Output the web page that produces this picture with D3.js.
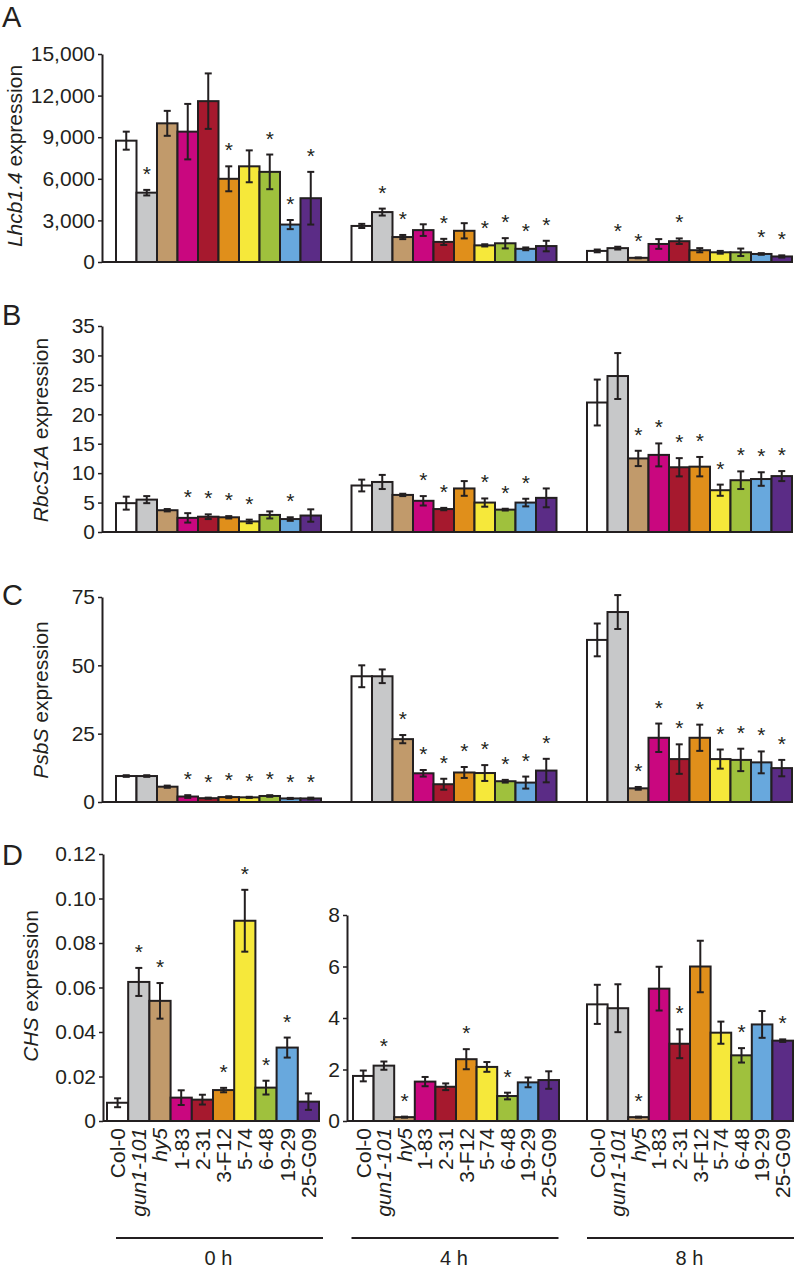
<!DOCTYPE html>
<html>
<head>
<meta charset="utf-8">
<script src="https://cdn.jsdelivr.net/npm/d3@7"></script>
<style>
body { margin: 0; background: #fff; }
svg { display: block; font-family: "Liberation Sans", Arial, sans-serif; }
</style>
</head>
<body>
<svg width="797" height="1272"></svg>
<script>
// lines and time points
var lines = ["Col-0", "gun1-101", "hy5", "1-83", "2-31", "3-F12", "5-74", "6-48", "19-29", "25-G09"];
var italicLines = ["gun1-101", "hy5"];
var times = ["0 h", "4 h", "8 h"];
var barColors = ["#ffffff", "#c7c8c9", "#c19a6b", "#c9077f", "#a6192e", "#e08f1b", "#f6e83a", "#9fc13d", "#68a8dd", "#5b2c86"];

// A - Lhcb1.4 (rows: 0 h, 4 h, 8 h)
var lhcbMean = [
  [8750, 5000, 10000, 9400, 11600, 6000, 6900, 6500, 2700, 4600],
  [2600, 3600, 1800, 2300, 1450, 2250, 1200, 1350, 950, 1150],
  [800, 1000, 300, 1300, 1500, 850, 700, 700, 580, 400]
];
var lhcbErr = [
  [650, 200, 900, 2000, 2000, 900, 1150, 1250, 330, 1900],
  [150, 250, 150, 420, 220, 550, 80, 370, 100, 380],
  [100, 100, 30, 350, 200, 150, 100, 270, 60, 80]
];
var lhcbStar = [
  [0, 1, 0, 0, 0, 1, 0, 1, 1, 1],
  [0, 1, 1, 0, 1, 0, 1, 1, 1, 1],
  [0, 1, 1, 0, 1, 0, 0, 0, 1, 1]
];

// B - RbcS1A
var rbcsMean = [
  [4.9, 5.5, 3.7, 2.4, 2.6, 2.5, 1.8, 2.9, 2.2, 2.8],
  [7.9, 8.5, 6.3, 5.3, 3.9, 7.4, 5.0, 3.8, 5.0, 5.8],
  [22, 26.5, 12.5, 13.1, 11.0, 11.1, 7.1, 8.8, 9.0, 9.5]
];
var rbcsErr = [
  [1.1, 0.6, 0.2, 0.8, 0.4, 0.2, 0.3, 0.6, 0.3, 1.05],
  [1.0, 1.2, 0.2, 0.8, 0.2, 1.25, 0.7, 0.15, 0.65, 1.6],
  [3.9, 3.9, 1.3, 1.95, 1.55, 1.65, 0.95, 1.5, 1.15, 0.85]
];
var rbcsStar = [
  [0, 0, 0, 1, 1, 1, 1, 0, 1, 0],
  [0, 0, 0, 1, 1, 0, 1, 1, 1, 0],
  [0, 0, 1, 1, 1, 1, 1, 1, 1, 1]
];

// C - PsbS
var psbsMean = [
  [9.5, 9.5, 5.6, 2.0, 1.4, 1.8, 1.7, 2.2, 1.3, 1.3],
  [46, 46, 23, 10.5, 6.5, 10.8, 10.6, 7.6, 7.1, 11.5],
  [59.3, 69.5, 5.0, 23.5, 15.7, 23.5, 15.7, 15.4, 14.5, 12.4]
];
var psbsErr = [
  [0.3, 0.3, 0.4, 0.5, 0.2, 0.3, 0.2, 0.3, 0.2, 0.3],
  [4, 2.5, 1.5, 1.2, 2.0, 2.0, 2.9, 0.5, 2.2, 4.3],
  [6, 6.2, 0.5, 5.2, 5.4, 4.8, 3.5, 4.1, 4.0, 3.0]
];
var psbsStar = [
  [0, 0, 0, 1, 1, 1, 1, 1, 1, 1],
  [0, 0, 1, 1, 1, 1, 1, 1, 1, 1],
  [0, 0, 1, 1, 1, 1, 1, 1, 1, 1]
];

// D - CHS (0 h on its own scale)
var chsMean = [
  [0.0082, 0.0625, 0.054, 0.0105, 0.0096, 0.0139, 0.090, 0.015, 0.033, 0.0087],
  [1.75, 2.15, 0.15, 1.53, 1.33, 2.4, 2.1, 0.97, 1.5, 1.59],
  [4.53, 4.38, 0.15, 5.14, 3.0, 6.0, 3.43, 2.55, 3.75, 3.12]
];
var chsErr = [
  [0.002, 0.0063, 0.008, 0.0033, 0.0022, 0.001, 0.0139, 0.0031, 0.0045, 0.0037],
  [0.21, 0.16, 0.02, 0.18, 0.13, 0.39, 0.19, 0.13, 0.19, 0.34],
  [0.76, 0.93, 0.02, 0.85, 0.56, 1.0, 0.43, 0.28, 0.52, 0.05]
];
var chsStar = [
  [0, 1, 1, 0, 0, 1, 1, 1, 1, 0],
  [0, 1, 1, 0, 0, 1, 0, 1, 0, 0],
  [0, 0, 1, 0, 1, 0, 0, 1, 0, 1]
];

var ink = "#231f20";
var svg = d3.select("svg");

// group positions for panels A-C
var groupX = d3.scaleBand().domain(times).range([116, 792]).paddingInner(0.1295);
// panel D: 0 h stands alone, 4 h and 8 h share an axis
var groupXd = d3.scaleBand().domain(times.slice(1)).range([353, 793]).paddingInner(0.1197);

function drawGroup(g, x0, x1, mean, err, star, y) {
  var x = d3.scaleBand().domain(lines).range([x0, x1]);
  var rows = lines.map(function(l, i) {
    return {line: l, i: i, v: mean[i], e: err[i], s: star[i]};
  });

  g.append("g").selectAll("rect").data(rows).enter().append("rect")
    .attr("x", function(d) { return x(d.line); })
    .attr("y", function(d) { return y(d.v); })
    .attr("width", x.bandwidth())
    .attr("height", function(d) { return y(0) - y(d.v); })
    .attr("fill", function(d) { return barColors[d.i]; })
    .attr("stroke", ink)
    .attr("stroke-width", 2);

  var eb = g.append("g").attr("stroke", ink).attr("stroke-width", 2)
    .selectAll("g").data(rows).enter().append("g");
  eb.append("line")
    .attr("x1", function(d) { return x(d.line) + x.bandwidth() / 2; })
    .attr("x2", function(d) { return x(d.line) + x.bandwidth() / 2; })
    .attr("y1", function(d) { return y(d.v + d.e); })
    .attr("y2", function(d) { return y(Math.max(0, d.v - d.e)); });
  eb.append("line")
    .attr("x1", function(d) { return x(d.line) + x.bandwidth() / 2 - 3.5; })
    .attr("x2", function(d) { return x(d.line) + x.bandwidth() / 2 + 3.5; })
    .attr("y1", function(d) { return y(d.v + d.e); })
    .attr("y2", function(d) { return y(d.v + d.e); });
  eb.append("line")
    .attr("x1", function(d) { return x(d.line) + x.bandwidth() / 2 - 3.5; })
    .attr("x2", function(d) { return x(d.line) + x.bandwidth() / 2 + 3.5; })
    .attr("y1", function(d) { return y(Math.max(0, d.v - d.e)); })
    .attr("y2", function(d) { return y(Math.max(0, d.v - d.e)); });

  g.append("g").selectAll("text").data(rows.filter(function(d) { return d.s; }))
    .enter().append("text")
    .attr("x", function(d) { return x(d.line) + x.bandwidth() / 2; })
    .attr("y", function(d) { return y(d.v + d.e) - 9; })
    .attr("text-anchor", "middle")
    .attr("font-size", 21)
    .attr("fill", ink)
    .text("*");
  return x;
}

function drawAxis(axisX, y, ticks, fmt, xEnd) {
  var a = svg.append("g").attr("transform", "translate(" + axisX + ",0)")
    .call(d3.axisLeft(y).tickValues(ticks).tickFormat(fmt).tickSize(4).tickSizeOuter(0).tickPadding(3));
  a.select(".domain").attr("stroke", ink).attr("stroke-width", 2);
  a.selectAll(".tick line").attr("stroke", ink).attr("stroke-width", 1.5);
  a.selectAll(".tick text").attr("font-size", 21).attr("fill", ink)
    .attr("font-family", "Liberation Sans, Arial, sans-serif");
  svg.append("line")
    .attr("x1", axisX).attr("x2", xEnd)
    .attr("y1", y(0)).attr("y2", y(0))
    .attr("stroke", ink).attr("stroke-width", 2);
}

function yTitle(x, yc, gene) {
  var t = svg.append("text")
    .attr("transform", "translate(" + x + "," + yc + ") rotate(-90)")
    .attr("text-anchor", "middle")
    .attr("font-size", 21)
    .attr("fill", ink);
  t.append("tspan").attr("font-style", "italic").text(gene);
  t.append("tspan").text(" expression");
}

function panelLetter(x, y, s) {
  svg.append("text").attr("x", x).attr("y", y)
    .attr("font-size", 29).attr("fill", ink).text(s);
}

// ---- panels A-C ----
var panels = [
  {letter: "A", ly: 27, gene: "Lhcb1.4", tx: 22, ty: 156, mean: lhcbMean, err: lhcbErr, star: lhcbStar,
   dom: [0, 15000], rng: [262, 54], ticks: d3.range(0, 15001, 3000), fmt: d3.format(",")},
  {letter: "B", ly: 325, gene: "RbcS1A", tx: 48, ty: 430, mean: rbcsMean, err: rbcsErr, star: rbcsStar,
   dom: [0, 35], rng: [532, 326], ticks: d3.range(0, 36, 5), fmt: d3.format("d")},
  {letter: "C", ly: 605, gene: "PsbS", tx: 48, ty: 700, mean: psbsMean, err: psbsErr, star: psbsStar,
   dom: [0, 75], rng: [802, 597], ticks: [0, 25, 50, 75], fmt: d3.format("d")}
];

panels.forEach(function(p) {
  var y = d3.scaleLinear().domain(p.dom).range(p.rng);
  times.forEach(function(t, ti) {
    var g = svg.append("g");
    drawGroup(g, groupX(t), groupX(t) + groupX.bandwidth(), p.mean[ti], p.err[ti], p.star[ti], y);
  });
  drawAxis(102, y, p.ticks, p.fmt, 793);
  yTitle(p.tx, p.ty, p.gene);
  panelLetter(2, p.ly, p.letter);
});

// ---- panel D ----
var yD0 = d3.scaleLinear().domain([0, 0.12]).range([1121, 854]);
var yD4 = d3.scaleLinear().domain([0, 8]).range([1121, 915]);
var labelScales = [];
labelScales.push(drawGroup(svg.append("g"), 107, 319, chsMean[0], chsErr[0], chsStar[0], yD0));
times.slice(1).forEach(function(t, k) {
  labelScales.push(drawGroup(svg.append("g"), groupXd(t), groupXd(t) + groupXd.bandwidth(),
    chsMean[k + 1], chsErr[k + 1], chsStar[k + 1], yD4));
});
drawAxis(103, yD0, d3.range(0, 0.121, 0.02),
  function(d) { return d === 0 ? "0" : d3.format(".2f")(d); }, 320);
drawAxis(347, yD4, [0, 2, 4, 6, 8], d3.format("d"), 794);
yTitle(38, 986, "CHS");
panelLetter(2, 865, "D");

// line names under panel D
labelScales.forEach(function(x) {
  svg.append("g").selectAll("text").data(lines).enter().append("text")
    .attr("transform", function(d) {
      return "translate(" + (x(d) + x.bandwidth() / 2) + ",1128) rotate(-90)";
    })
    .attr("dy", "0.35em")
    .attr("text-anchor", "end")
    .attr("font-size", 21)
    .attr("fill", ink)
    .attr("font-style", function(d) { return italicLines.indexOf(d) >= 0 ? "italic" : null; })
    .text(function(d) { return d; });
});

// time brackets
var tg = svg.append("g").selectAll("g").data(times).enter().append("g");
tg.append("line")
  .attr("x1", function(d) { return groupX(d); })
  .attr("x2", function(d) { return groupX(d) + groupX.bandwidth() + 2; })
  .attr("y1", 1238).attr("y2", 1238)
  .attr("stroke", ink).attr("stroke-width", 2);
tg.append("text")
  .attr("x", function(d) { return groupX(d) + groupX.bandwidth() / 2; })
  .attr("y", 1265)
  .attr("text-anchor", "middle")
  .attr("font-size", 20)
  .attr("fill", ink)
  .text(function(d) { return d; });
</script>
</body>
</html>
